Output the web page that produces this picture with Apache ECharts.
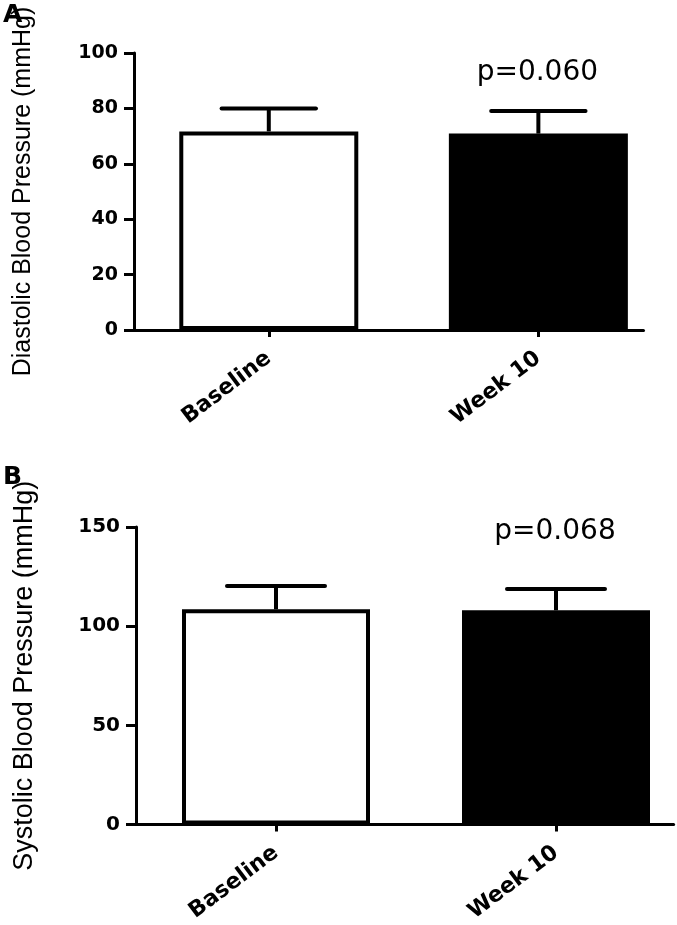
<!DOCTYPE html>
<html>
<head>
<meta charset="utf-8">
<script src="https://cdn.jsdelivr.net/npm/echarts@6/dist/echarts.min.js"></script>
<style>html,body{margin:0;padding:0;background:#fff;}#chart{width:677px;height:925px;}</style>
</head>
<body>
<div id="chart"></div>
<script>
const categories = ['Baseline', 'Week 10'];
const diastolicMean = [71.7, 70.9];
const diastolicSD = [8.3, 8.2];
const systolicMean = [108.5, 108.0];
const systolicSD = [11.8, 10.8];
const diastolicTicks = [0, 20, 40, 60, 80, 100];
const systolicTicks = [0, 50, 100, 150];
const pLabels = ['p=0.060', 'p=0.068'];
const barColors = ['#ffffff', '#000000'];

const chart = echarts.init(document.getElementById('chart'), null, {renderer: 'canvas'});

function xAxisCfg(grid, max, fs) {
  return {
    type: 'value', gridIndex: grid, min: 0.5, max: max,
    axisLine: {show: true, onZero: false, lineStyle: {color: '#000', width: 3}},
    axisTick: {show: true, customValues: [1, 2], length: 7, lineStyle: {color: '#000', width: 3}},
    axisLabel: {
      customValues: [1, 2],
      formatter: v => categories[Math.round(v) - 1],
      rotate: 37, margin: 26, color: '#000',
      fontFamily: 'DejaVu Sans', fontWeight: 'bold', fontSize: fs
    },
    splitLine: {show: false}
  };
}
function yAxisCfg(grid, ticks, name, fs, nfs) {
  return {
    type: 'value', gridIndex: grid, min: ticks[0], max: ticks[ticks.length - 1],
    interval: ticks[1] - ticks[0],
    axisLine: {show: true, lineStyle: {color: '#000', width: 3}},
    axisTick: {show: true, length: 10, lineStyle: {color: '#000', width: 3}},
    axisLabel: {margin: 16, color: '#000', fontFamily: 'DejaVu Sans', fontWeight: 'bold', fontSize: fs},
    splitLine: {show: false},
    name: name, nameLocation: 'middle', nameGap: 98,
    nameTextStyle: {fontFamily: 'Liberation Sans', fontSize: nfs, color: '#000'}
  };
}
function barSeries(idx, means, width) {
  return {
    type: 'bar', xAxisIndex: idx, yAxisIndex: idx, barWidth: width,
    data: means.map((v, i) => ({value: [i + 1, v], itemStyle: {color: barColors[i]}})),
    itemStyle: {borderColor: '#000', borderWidth: 4},
    emphasis: {disabled: true}, z: 2
  };
}
function errSeries(idx, means, sds) {
  return {
    type: 'custom', xAxisIndex: idx, yAxisIndex: idx, z: 3,
    data: means.map((v, i) => [i + 1, v, v + sds[i]]),
    renderItem: function (params, api) {
      const base = api.coord([api.value(0), api.value(1)]);
      const top = api.coord([api.value(0), api.value(2)]);
      const half = api.size([0.175, 0])[0];
      return {
        type: 'group', children: [
          {type: 'line', shape: {x1: top[0], y1: base[1], x2: top[0], y2: top[1]},
            style: {stroke: '#000', lineWidth: 4}},
          {type: 'line', shape: {x1: top[0] - half, y1: top[1], x2: top[0] + half, y2: top[1]},
            style: {stroke: '#000', lineWidth: 4, lineCap: 'round'}}
        ]
      };
    }
  };
}
function pSeries(idx, text, yv) {
  return {
    type: 'custom', xAxisIndex: idx, yAxisIndex: idx, z: 4,
    data: [[2, yv]],
    renderItem: function (params, api) {
      const p = api.coord([api.value(0), api.value(1)]);
      return {type: 'text', style: {text: text, x: p[0] - 1, y: p[1], fill: '#000',
        fontFamily: 'DejaVu Sans', fontSize: 28, align: 'center', verticalAlign: 'middle'}};
    }
  };
}

chart.setOption({
  animation: false,
  backgroundColor: '#fff',
  grid: [
    {left: 134, top: 53, width: 509.5, height: 277},
    {left: 136, top: 527, width: 537.6, height: 299}
  ],
  xAxis: [xAxisCfg(0, 2.39, 22), xAxisCfg(1, 2.42, 22)],
  yAxis: [
    yAxisCfg(0, diastolicTicks, 'Diastolic Blood Pressure (mmHg)', 19, 25),
    yAxisCfg(1, systolicTicks, 'Systolic Blood Pressure (mmHg)', 20, 27)
  ],
  graphic: [
    {type: 'text', left: 3, top: 3, style: {text: 'A', fill: '#000', fontFamily: 'DejaVu Sans', fontWeight: 'bold', fontSize: 25}},
    {type: 'text', left: 3, top: 465, style: {text: 'B', fill: '#000', fontFamily: 'DejaVu Sans', fontWeight: 'bold', fontSize: 25}}
  ],
  series: [
    barSeries(0, diastolicMean, 179),
    errSeries(0, diastolicMean, diastolicSD),
    pSeries(0, pLabels[0], 92.8),
    barSeries(1, systolicMean, 188),
    errSeries(1, systolicMean, systolicSD),
    pSeries(1, pLabels[1], 147.7)
  ]
});
</script>
</body>
</html>
